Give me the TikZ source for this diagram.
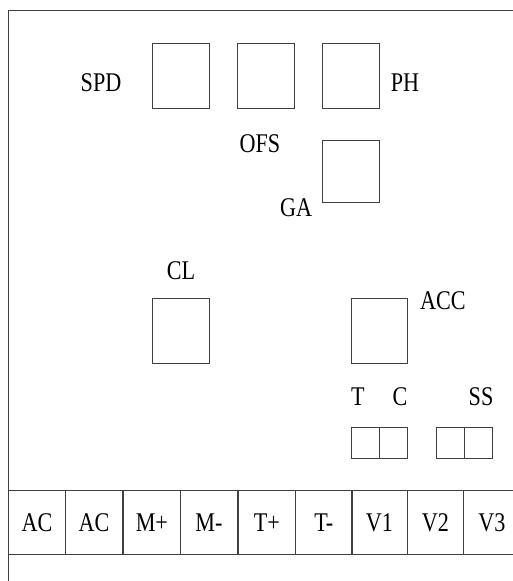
\documentclass[tikz,border=0pt]{standalone}
\usepackage{fontspec}
\setmainfont[FakeStretch=0.82]{Liberation Serif}
\begin{document}
\begin{tikzpicture}[x=1pt,y=-1pt,
  ln/.style={draw=black!75,line width=0.8pt},
  sq/.style={ln,minimum width=57pt,minimum height=65pt,inner sep=0pt,anchor=north west},
  small/.style={ln,minimum width=28pt,minimum height=31pt,inner sep=0pt,anchor=north west},
  cell/.style={ln,minimum width=57pt,minimum height=64pt,inner sep=0pt,anchor=north west,font=\fontsize{27}{27}\selectfont},
  lab/.style={inner sep=0pt,font=\fontsize{27}{27}\selectfont}]
\useasboundingbox (0,0) rectangle (513,581);
\begin{scope}
\clip (0,0) rectangle (513,581);
% frame
\draw[ln] (8,581) -- (8,10) -- (520,10);
% boxes
\node[sq] (spd) at (152,43) {};
\node[sq] (ofs) at (237,43) {};
\node[sq] (ph) at (322,43) {};
\node[sq,minimum height=62pt] (ga) at (322,140) {};
\node[sq] (cl) at (152,298) {};
\node[sq,minimum width=56pt] (acc) at (351,298) {};
\node[small] (t) at (351,427) {};
\node[small] (c) at (379,427) {};
\node[small] (ss1) at (436,427) {};
\node[small] (ss2) at (464,427) {};
% labels
\node[lab] (lspd) at (101,83) {SPD};
\node[lab] (lph) at (405,83) {PH};
\node[lab] (lofs) at (260,144) {OFS};
\node[lab] (lga) at (296,208) {GA};
\node[lab] (lcl) at (181,271) {CL};
\node[lab] (lacc) at (443,301) {ACC};
\node[lab] (lt) at (358,397) {T};
\node[lab] (lc) at (400,397) {C};
\node[lab] (lss) at (481,397) {SS};
% bottom row
\node[cell] (b1) at (8,490) {AC};
\node[cell] (b2) at (65,490) {AC};
\node[cell] (b3) at (123,490) {M+};
\node[cell] (b4) at (180,490) {M-};
\node[cell] (b5) at (238,490) {T+};
\node[cell] (b6) at (295,490) {T-};
\node[cell,minimum width=56pt] (b7) at (351,490) {V1};
\node[cell,minimum width=56pt] (b8) at (407,490) {V2};
\node[cell] (b9) at (463,490) {V3};
\end{scope}
\end{tikzpicture}
\end{document}
